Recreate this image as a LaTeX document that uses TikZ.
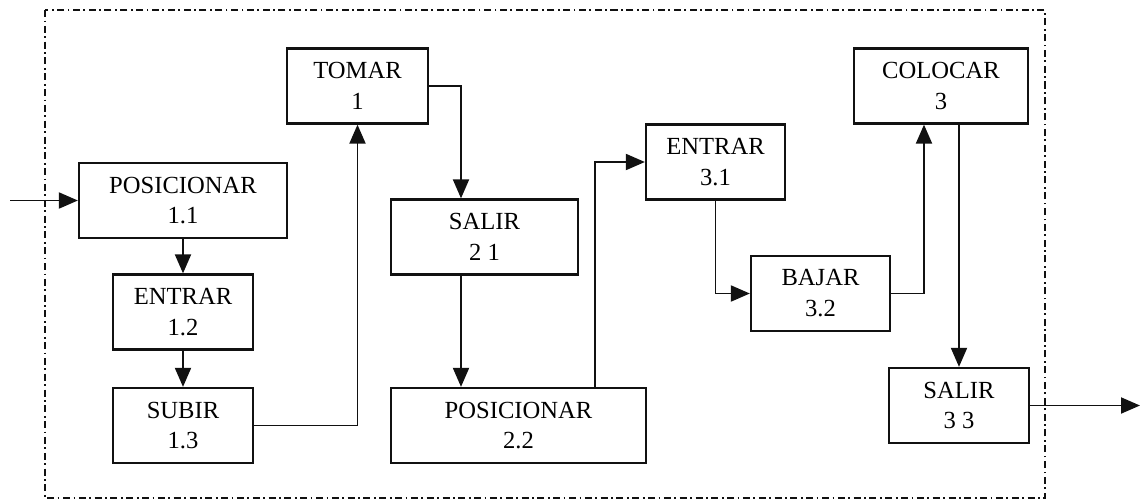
\documentclass[tikz,border=0pt]{standalone}
\usepackage{fontspec}
\setmainfont{Liberation Serif}
\usetikzlibrary{arrows.meta,positioning,calc}
\definecolor{dgInk}{HTML}{111111}
\tikzset{
  blk/.style={draw=dgInk, line width=1.3pt, fill=white, minimum width=2.8cm, minimum height=1.5cm, inner sep=2pt, align=center, font=\fontsize{14}{17.6}\selectfont},
  arr/.style={-{Triangle[length=0.38cm,width=0.32cm]}, line width=1.1pt, draw=dgInk},
  frm/.style={draw=dgInk, line width=0.9pt, dash pattern=on 4pt off 2pt on 1pt off 2pt},
}

\begin{document}
\begin{tikzpicture}[x=0.02cm, y=-0.02cm]
  \useasboundingbox (0,0) rectangle (1140,501);
  \draw[frm] (45,10) rectangle (1045,498);
  % bloque 1
  \node[blk, minimum width=4.16cm] (pos11) at (183,200.5) {POSICIONAR\\1.1};
  \node[blk] (ent12) at (183,312) {ENTRAR\\1.2};
  \node[blk] (sub13) at (183,425.5) {SUBIR\\1.3};
  \node[blk, minimum width=2.82cm] (tomar) at (357.5,86) {TOMAR\\1};
  % bloque 2
  \node[blk, minimum width=3.74cm] (sal21) at (484.5,237) {SALIR\\2 1};
  \node[blk, minimum width=5.1cm] (pos22) at (518.5,425.5) {POSICIONAR\\2.2};
  % bloque 3
  \node[blk, minimum width=2.78cm] (ent31) at (715.5,162) {ENTRAR\\3.1};
  \node[blk, minimum width=2.78cm] (baj32) at (820.5,293.5) {BAJAR\\3.2};
  \node[blk, minimum width=3.48cm] (col3) at (941,86) {COLOCAR\\3};
  \node[blk] (sal33) at (959,405.5) {SALIR\\3 3};
  \coordinate (ini) at (10,200.5);
  \coordinate (fin) at (1140,405.5);
  % conexiones
  \draw[arr] (ini) -- (pos11.west);
  \draw[arr] (pos11.south) -- (ent12.north);
  \draw[arr] (ent12.south) -- (sub13.north);
  \draw[arr] (sub13.east) -| (tomar.south);
  \draw[arr] (tomar.east) -| ([xshift=-0.47cm]sal21.north);
  \draw[arr] ([xshift=-0.47cm]sal21.south) -- ([xshift=-0.47cm]sal21.south |- pos22.north);
  \draw[arr] ([xshift=1.53cm]pos22.north) |- (ent31.west);
  \draw[arr] (ent31.south) |- (baj32.west);
  \draw[arr] (baj32.east) -| ([xshift=-0.34cm]col3.south);
  \draw[arr] (sal33.north |- col3.south) -- (sal33.north);
  \draw[arr] (sal33.east) -- (fin);
\end{tikzpicture}
\end{document}
